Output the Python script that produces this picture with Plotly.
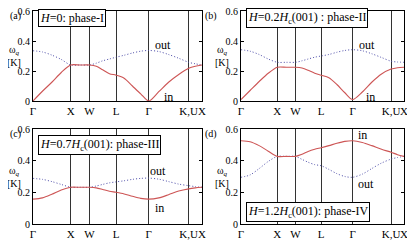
import plotly.graph_objects as go

# path coordinates along Γ-X-W-L-Γ-K|U-X
k_pts = [0.0, 0.25, 0.5, 0.75, 1.0,
         1.25, 1.5,
         1.68, 1.85, 2.03, 2.207,
         2.42, 2.64, 2.86, 3.073,
         3.34, 3.60, 3.87, 4.134,
         4.31, 4.488]
tick_pos = [0.0, 1.0, 1.5, 2.207, 3.073, 4.134, 4.488]
tick_lab = ["Γ", "X", "W", "L", "Γ", "K,U", "X"]

a_in  = [0.0, 0.065, 0.125, 0.19, 0.24, 0.24, 0.24, 0.232, 0.208, 0.182, 0.172,
         0.152, 0.10, 0.048, 0.0, 0.062, 0.125, 0.177, 0.218, 0.232, 0.24]
a_out = [0.335, 0.327, 0.306, 0.277, 0.24, 0.24, 0.24, 0.252, 0.268, 0.28, 0.292,
         0.305, 0.32, 0.332, 0.337, 0.33, 0.31, 0.285, 0.258, 0.248, 0.24]
b_in  = [0.01, 0.07, 0.13, 0.185, 0.225, 0.225, 0.225, 0.22, 0.205, 0.185, 0.172,
         0.155, 0.11, 0.055, 0.01, 0.06, 0.125, 0.18, 0.213, 0.222, 0.225]
b_out = [0.342, 0.332, 0.31, 0.28, 0.258, 0.258, 0.258, 0.268, 0.28, 0.292, 0.30,
         0.31, 0.325, 0.337, 0.342, 0.335, 0.315, 0.29, 0.265, 0.26, 0.258]
c_in  = [0.157, 0.165, 0.188, 0.215, 0.232, 0.232, 0.232, 0.228, 0.218, 0.207, 0.20,
         0.19, 0.175, 0.162, 0.157, 0.165, 0.185, 0.208, 0.222, 0.228, 0.232]
c_out = [0.288, 0.282, 0.268, 0.25, 0.232, 0.232, 0.232, 0.24, 0.25, 0.26, 0.266,
         0.273, 0.282, 0.288, 0.29, 0.283, 0.268, 0.252, 0.242, 0.236, 0.232]
d_in  = [0.526, 0.52, 0.495, 0.46, 0.427, 0.427, 0.427, 0.44, 0.458, 0.472, 0.482,
         0.495, 0.51, 0.522, 0.526, 0.515, 0.495, 0.472, 0.453, 0.438, 0.427]
d_out = [0.295, 0.31, 0.35, 0.395, 0.427, 0.427, 0.427, 0.408, 0.39, 0.375, 0.368,
         0.345, 0.318, 0.30, 0.295, 0.315, 0.35, 0.385, 0.41, 0.42, 0.427]

panels = [
    ("a", a_in, a_out, "<i>H</i>=0: phase-I", 18),
    ("b", b_in, b_out, "<i>H</i>=0.2<i>H</i><sub>c</sub>(001) : phase-II", 18),
    ("c", c_in, c_out, "<i>H</i>=0.7<i>H</i><sub>c</sub>(001): phase-III", 145),
    ("d", d_in, d_out, "<i>H</i>=1.2<i>H</i><sub>c</sub>(001): phase-IV", 212),
]
label_pos = {
    "a": ((3.61, 0.03), (3.45, 0.373)),
    "b": ((3.56, 0.03), (3.48, 0.373)),
    "c": ((3.37, 0.10), (3.32, 0.335)),
    "d": ((3.35, 0.562), (3.43, 0.253)),
}

# page has an 8px body margin; figure occupies the rest of the window
OFF = 8
W, H = 415 - OFF, 243 - OFF


def px(x):
    return min(1.0, max(0.0, (x - OFF) / W))


def py(y):
    return min(1.0, max(0.0, 1 - (y - OFF) / H))


xdom = [(px(33), px(202)), (px(241), px(404))]
ydom = [(py(101), py(11)), (py(224), py(129))]

RED = "rgb(205,85,85)"
BLUE = "rgb(80,80,170)"
FONT = "Liberation Serif"

fig = go.Figure()
ann = []
for i, (name, yin, yout, box, box_y) in enumerate(panels):
    col, row = i % 2, i // 2
    sfx = "" if i == 0 else str(i + 1)
    xa, ya = "x" + sfx, "y" + sfx
    fig.add_trace(go.Scatter(x=k_pts, y=yout, mode="lines", xaxis=xa, yaxis=ya,
                             line=dict(color=BLUE, width=1, dash="1px,2px", shape="spline", smoothing=0.8),
                             showlegend=False))
    fig.add_trace(go.Scatter(x=k_pts, y=yin, mode="lines", xaxis=xa, yaxis=ya,
                             line=dict(color=RED, width=1.1, shape="spline", smoothing=0.8),
                             showlegend=False))
    fig.layout["xaxis" + sfx] = dict(
        domain=xdom[col], anchor=ya, range=[0, 4.488], tickmode="array",
        tickvals=tick_pos, ticktext=tick_lab, showgrid=True, gridcolor="#333",
        gridwidth=1, zeroline=False, showline=True, linecolor="black", mirror=True,
        ticks="", tickangle=0, automargin=False, ticklabeloverflow="allow",
        tickfont=dict(family=FONT, size=11, color="black"))
    fig.layout["yaxis" + sfx] = dict(
        domain=ydom[row], anchor=xa, range=[0, 0.6], tickmode="array",
        tickvals=[0, 0.2, 0.4, 0.6], ticktext=["0", "0.2", "0.4", "0.6"],
        showgrid=False, zeroline=False, showline=True, linecolor="black", mirror="ticks",
        ticks="inside", ticklen=3, tickcolor="black", automargin=False,
        ticklabeloverflow="allow",
        tickfont=dict(family=FONT, size=10, color="black"))
    lx = 33 if col == 0 else 241
    ty, by_ = (11, 101) if row == 0 else (129, 224)
    # panel letter
    ann.append(dict(text="(" + name + ")", xref="paper", yref="paper",
                    x=px(lx - 38), y=py(ty + 5), xanchor="left", yanchor="middle",
                    showarrow=False, font=dict(family=FONT, size=10, color="black")))
    # axis title
    ann.append(dict(text="ω<sub><i>q</i></sub><br>[K]", xref="paper", yref="paper",
                    x=px(lx - 19), y=py((ty + by_) / 2), xanchor="center", yanchor="middle",
                    showarrow=False, font=dict(family=FONT, size=10, color="black")))
    # phase box
    ann.append(dict(text=box, xref="paper", yref="paper", x=px(lx + 5), y=py(box_y),
                    xanchor="left", yanchor="middle", showarrow=False,
                    bordercolor="black", borderwidth=1, borderpad=1, bgcolor="white",
                    font=dict(family=FONT, size=12, color="black")))
    (ix, iy), (ox, oy) = label_pos[name]
    ann.append(dict(text="in", xref=xa, yref=ya, x=ix, y=iy, showarrow=False,
                    font=dict(family=FONT, size=12, color="black")))
    ann.append(dict(text="out", xref=xa, yref=ya, x=ox, y=oy, showarrow=False,
                    font=dict(family=FONT, size=12, color="black")))

fig.update_layout(width=W, height=H, margin=dict(l=0, r=0, t=0, b=0, autoexpand=False),
                  paper_bgcolor="white", plot_bgcolor="white", annotations=ann)
fig.write_html("out.html")
